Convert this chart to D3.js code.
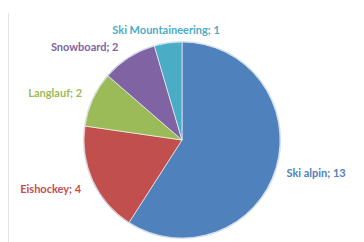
<!DOCTYPE html>
<html>
<head>
<meta charset="utf-8">
<script src="https://cdn.jsdelivr.net/npm/d3@7"></script>
<style>
  body { margin: 0; background: #fff; }
  .label { font-family: "Lato", "Open Sans", sans-serif; font-weight: bold; font-size: 11px; }
</style>
</head>
<body>
<svg id="chart"></svg>
<script>
// Chart data
const categories = ["Ski alpin", "Eishockey", "Langlauf", "Snowboard", "Ski Mountaineering"];
const values = [13, 4, 2, 2, 1];
const colors = ["#4F81BD", "#C0504D", "#9BBB59", "#8064A2", "#4BACC6"];
const labelColors = ["#4F81BD", "#C0504D", "#9BBB59", "#8064A2", "#4BACC6"];

const svgWidth = 364;
const svgHeight = 242;
const cx = 182, cy = 140, radius = 98;

const svg = d3.select("#chart")
  .attr("width", svgWidth)
  .attr("height", svgHeight);

// faint border line on the left
svg.append("line")
  .attr("x1", 8.5).attr("x2", 8.5)
  .attr("y1", 13).attr("y2", svgHeight)
  .attr("stroke", "#e4e4e4")
  .attr("stroke-width", 1);

const defs = svg.append("defs");
defs.append("filter").attr("id", "soft")
  .append("feGaussianBlur").attr("stdDeviation", 0.6);

const pie = d3.pie().sort(null).value(d => d.value);
const arc = d3.arc().innerRadius(0).outerRadius(radius);

const data = categories.map((c, i) => ({ name: c, value: values[i], color: colors[i], labelColor: labelColors[i] }));
const arcs = pie(data);

const g = svg.append("g")
  .attr("transform", "translate(" + cx + "," + cy + ")");

// soft halo around the pie
g.append("circle")
  .attr("r", radius + 1)
  .attr("fill", "#c9d6e8")
  .attr("filter", "url(#soft)");

g.selectAll(".slice")
  .data(arcs)
  .enter().append("path")
  .attr("class", "slice")
  .attr("d", arc)
  .attr("fill", d => d.data.color)
  .attr("stroke", "#fff")
  .attr("stroke-width", 0.6)
  .attr("filter", "url(#soft)");

// label positions outside the pie
const labelArc = d3.arc().innerRadius(radius + 14).outerRadius(radius + 14);
const labelOffsets = {
  "Ski alpin": { dx: -3, dy: 2, anchor: "start" },
  "Eishockey": { dx: 1, dy: 3, anchor: "end" },
  "Langlauf": { dx: 2, dy: 0, anchor: "end" },
  "Snowboard": { dx: -3, dy: 1, anchor: "end" },
  "Ski Mountaineering": { dx: 0, dy: 1, anchor: "middle" }
};

g.selectAll(".label")
  .data(arcs)
  .enter().append("text")
  .attr("class", "label")
  .attr("x", d => labelArc.centroid(d)[0] + labelOffsets[d.data.name].dx)
  .attr("y", d => labelArc.centroid(d)[1] + labelOffsets[d.data.name].dy)
  .attr("dy", "0.35em")
  .attr("text-anchor", d => labelOffsets[d.data.name].anchor)
  .attr("fill", d => d.data.labelColor)
  .text(d => d.data.name + "; " + d.data.value);
</script>
</body>
</html>
